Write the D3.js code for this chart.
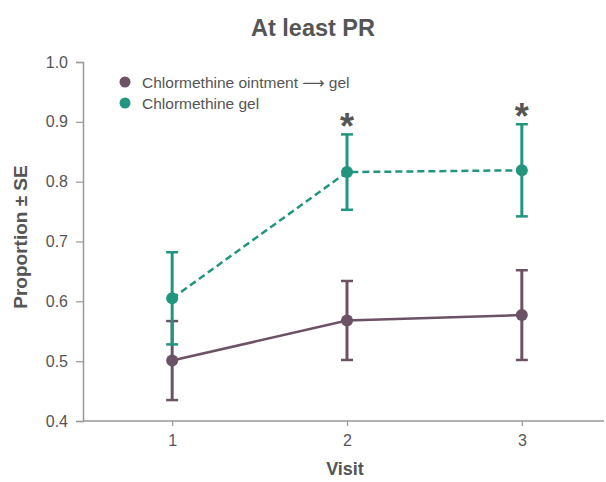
<!DOCTYPE html>
<html lang="en">
<head>
<meta charset="UTF-8">
<title>At least PR</title>
<script src="https://d3js.org/d3.v7.min.js"></script>
<style>
  body { margin: 0; background: #fff; }
  text { font-family: "Liberation Sans", Arial, "DejaVu Sans", sans-serif; fill: #555; }
</style>
</head>
<body>
<script>
var visits = [1, 2, 3];
var seriesNames = ['Chlormethine ointment \u27f6 gel', 'Chlormethine gel'];
var ointmentMean = [0.501, 0.568, 0.577];
var ointmentSE = [0.066, 0.066, 0.075];
var gelMean = [0.605, 0.816, 0.819];
var gelSE = [0.077, 0.063, 0.077];
var significant = [false, true, true]; // asterisk over gel bar
var yTicks = [0.4, 0.5, 0.6, 0.7, 0.8, 0.9, 1.0];

var width = 606, height = 482;
var colors = ['#6b5264', '#22957e'];

var svg = d3.select('body').append('svg')
    .attr('width', width)
    .attr('height', height);

var x = d3.scaleLinear().domain([0.49, 3.47]).range([83, 604]);
var y = d3.scaleLinear().domain([0.4, 1.0]).range([421, 62]);

// axes
var xAxis = svg.append('g')
    .attr('transform', 'translate(0,421)')
    .call(d3.axisBottom(x).tickValues(visits).tickFormat(d3.format('d')).tickSize(5).tickPadding(9));
var yAxis = svg.append('g')
    .attr('transform', 'translate(83,0)')
    .call(d3.axisLeft(y).tickValues(yTicks).tickFormat(d3.format('.1f')).tickSize(7).tickPadding(8));

[xAxis, yAxis].forEach(function(a) {
    a.select('.domain').attr('stroke', '#999').attr('stroke-width', 1.5);
    a.selectAll('.tick line').attr('stroke', '#999').attr('stroke-width', 1.2);
    a.selectAll('.tick text').style('font-size', '16px');
});
xAxis.select('.domain').attr('d', 'M83,0H604');

// titles
svg.append('text')
    .attr('x', 313).attr('y', 36)
    .attr('text-anchor', 'middle')
    .style('font-size', '23.5px').style('font-weight', 'bold')
    .text('At least PR');

svg.append('text')
    .attr('x', 345).attr('y', 475)
    .attr('text-anchor', 'middle')
    .style('font-size', '18px').style('font-weight', 'bold')
    .text('Visit');

svg.append('text')
    .attr('transform', 'translate(27,237) rotate(-90)')
    .attr('text-anchor', 'middle')
    .style('font-size', '19px').style('font-weight', 'bold')
    .text('Proportion \u00b1 SE');

// series
var series = [
    { name: seriesNames[0], mean: ointmentMean, se: ointmentSE, color: colors[0], dash: null },
    { name: seriesNames[1], mean: gelMean, se: gelSE, color: colors[1], dash: '7,4' }
];

var line = d3.line()
    .x(function(d, i) { return x(visits[i]); })
    .y(function(d) { return y(d); });

series.forEach(function(s) {
    var g = svg.append('g');
    var pts = s.mean.map(function(m, i) { return { v: visits[i], m: m, se: s.se[i] }; });

    g.append('path')
        .datum(s.mean)
        .attr('d', line)
        .attr('fill', 'none')
        .attr('stroke', s.color)
        .attr('stroke-width', 2.5)
        .attr('stroke-dasharray', s.dash);

    g.selectAll('line.err').data(pts).enter().append('line')
        .attr('class', 'err')
        .attr('x1', function(d) { return x(d.v); })
        .attr('x2', function(d) { return x(d.v); })
        .attr('y1', function(d) { return y(d.m - d.se); })
        .attr('y2', function(d) { return y(d.m + d.se); })
        .attr('stroke', s.color).attr('stroke-width', 3);

    [-1, 1].forEach(function(sign, k) {
        g.selectAll('line.cap' + k).data(pts).enter().append('line')
            .attr('class', 'cap' + k)
            .attr('x1', function(d) { return x(d.v) - 6; })
            .attr('x2', function(d) { return x(d.v) + 6; })
            .attr('y1', function(d) { return y(d.m + sign * d.se); })
            .attr('y2', function(d) { return y(d.m + sign * d.se); })
            .attr('stroke', s.color).attr('stroke-width', 2.5);
    });

    g.selectAll('circle').data(pts).enter().append('circle')
        .attr('cx', function(d) { return x(d.v); })
        .attr('cy', function(d) { return y(d.m); })
        .attr('r', 6)
        .attr('fill', s.color);
});

// significance asterisks
svg.selectAll('text.star').data(visits.filter(function(v, i) { return significant[i]; }))
    .enter().append('text')
    .attr('class', 'star')
    .attr('x', function(d) { return x(d); })
    .attr('y', function(d) { var i = visits.indexOf(d); return y(gelMean[i] + gelSE[i]) + 5; })
    .attr('text-anchor', 'middle')
    .style('font-size', '36px').style('font-weight', 'bold')
    .text('*');

// legend
var legend = svg.append('g').attr('transform', 'translate(125,82)');
series.forEach(function(s, i) {
    legend.append('circle').attr('cx', 0).attr('cy', i * 21).attr('r', 5.5).attr('fill', s.color);
    legend.append('text').attr('x', 17).attr('y', i * 21 + 5.5)
        .style('font-size', '15.5px')
        .text(s.name);
});
</script>
</body>
</html>
